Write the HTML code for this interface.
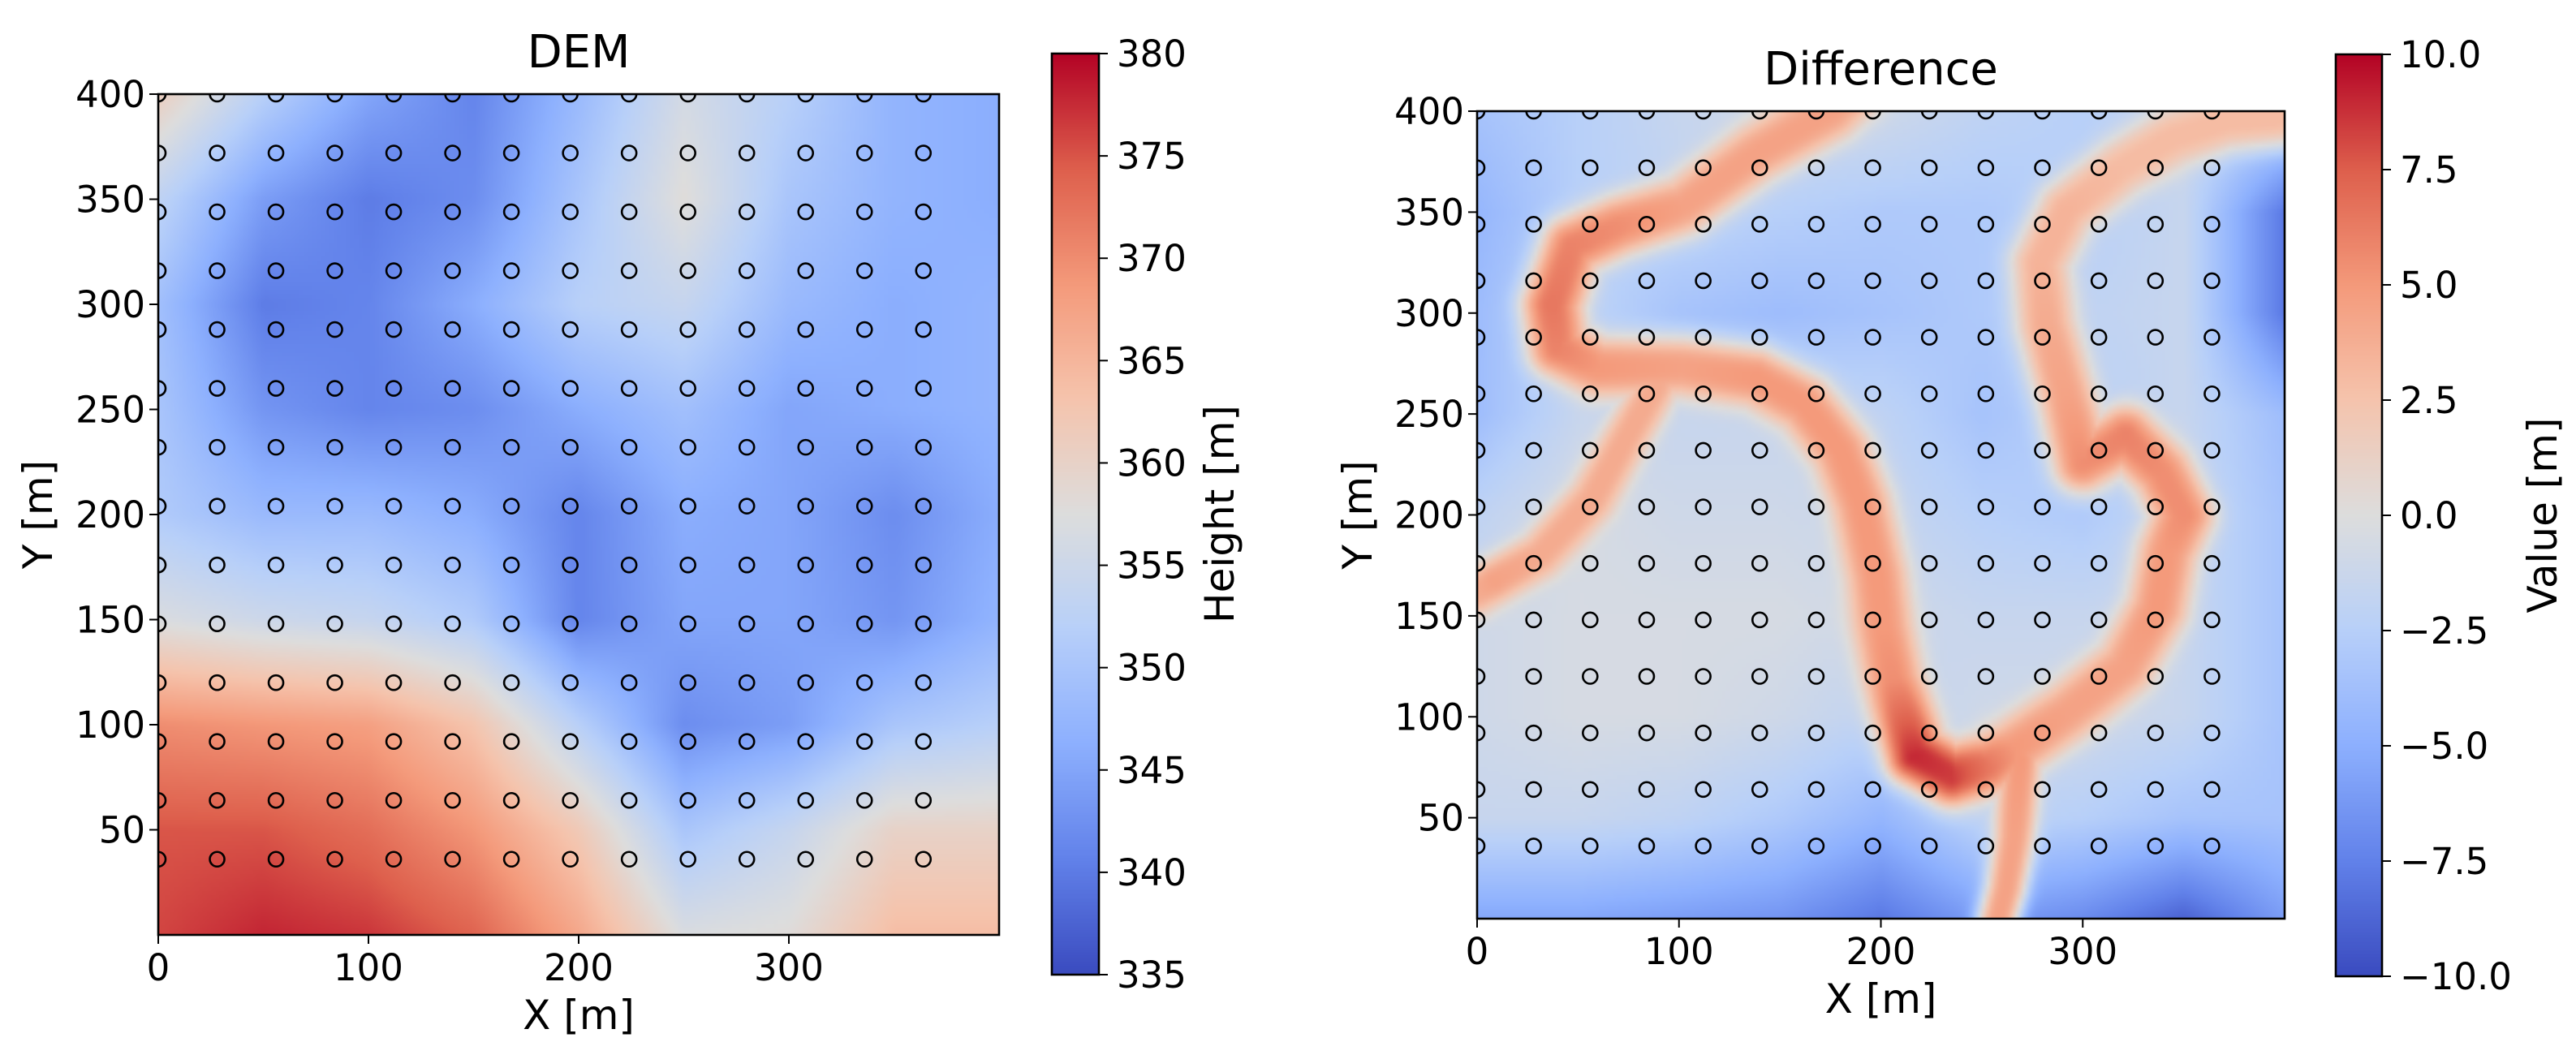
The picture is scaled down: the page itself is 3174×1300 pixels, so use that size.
<!DOCTYPE html>
<html><head><meta charset="utf-8">
<style>
html,body{margin:0;padding:0;background:#fff;}
#wrap{position:relative;width:3174px;height:1300px;overflow:hidden;background:#fff;}
canvas{position:absolute;image-rendering:auto;}
svg{position:absolute;left:0;top:0;}
text{font-family:"DejaVu Sans","Liberation Sans",sans-serif;fill:#000;}
</style></head>
<body>
<div id="wrap">
<canvas id="demCanvas" width="200" height="200" style="left:195px;top:116px;width:1036px;height:1036px;"></canvas>
<canvas id="difCanvas" width="200" height="200" style="left:1820px;top:137px;width:995px;height:995px;"></canvas>
<canvas id="demCbar" width="1" height="256" style="left:1296px;top:66px;width:58px;height:1135px;"></canvas>
<canvas id="difCbar" width="1" height="256" style="left:2878px;top:67px;width:57px;height:1136px;"></canvas>
<svg id="svg" width="3174" height="1300" xmlns="http://www.w3.org/2000/svg"></svg>
</div>
<script>
// ---- data ----
const gridXs=[0,50,100,150,200,250,300,350,400];
const gridYs=[400,350,300,250,200,150,100,50,0];
const demValues=[
[361,352,345,341,348,356,352,347,346],
[353,344,340,342,350,358,350,347,346],
[349,340,341,346,352,354,348,346,347],
[350,343,341,342,346,349,345,346,347],
[351,348,348,346,341,346,345,342,346],
[357,355,354,351,341,345,345,343,347],
[370,369,368,363,352,342,344,350,352],
[375,375,373,369,362,350,354,360,360],
[376,378,377,374,367,357,358,364,364]];
const difBackground=[
[-3.5,-2.5,-1.5,-1,-1,-2,-2.5,-1.5,-2],
[-4.5,-2.5,-2,-2.5,-3,-3,-2.5,-1.5,-8],
[-4,-2,-3.5,-4,-3.5,-3,-2,-1.5,-8],
[-4,-1.5,-1.5,-1.5,-2,-3.5,-2.5,-1.5,-4],
[-2,-0.5,-1,-1,-1.5,-2.5,-3,-1.5,-3.5],
[-1,-0.5,-0.5,-0.5,-1,-1.5,-1.5,-1.5,-3.5],
[-1,-0.5,-0.5,-1,-2,-1,-1,-1.5,-3.5],
[-1.5,-1.5,-2,-3,-4.5,-2,-2.5,-3.5,-3.5],
[-5.5,-5.5,-6,-6.5,-8,-6,-7,-9,-6]];
const ridgeAX=[185,175,138,102,70,47,37,40,60,102,138,162,180,190,198,201,206,217,235,253,266,292,321,337,342,350,339,321,300,292,282,279,292,319,345,371,397,410];
const ridgeAY=[410,400,379,353,343,333,304,283,273,273,268,255,232,206,170,144,118,81,71,76,84,102,125,154,182,200,221,239,226,258,294,325,351,372,387,395,397,405];
const ridgeAV=[4.5,4.5,4.5,4.5,5.5,6,6.5,6,5,4.5,5,5,5,5,5,5,5.5,9,8.5,6.5,5,4.5,4.5,5,5,5.5,5.5,6,5.5,4.5,4,3.5,3.5,3,3,3,3,3];
const ridgeBX=[0,8,31,57,76,91];
const ridgeBY=[162,167,180,208,242,268];
const ridgeBV=[4,4.5,4,4,4,4];
const ridgeCX=[269,266,262,258];
const ridgeCY=[79,40,15,0];
const ridgeCV=[5,4.5,4.5,4.5];
const circleXs=[0,28,56,84,112,140,168,196,224,252,280,308,336,364];
const circleYs=[400,372,344,316,288,260,232,204,176,148,120,92,64,36];
const axisTicks=[0,100,200,300];
const yTicks=[50,100,150,200,250,300,350,400];
const demCbarTicks=[335,340,345,350,355,360,365,370,375,380];
const difCbarTicks=[-10,-7.5,-5,-2.5,0,2.5,5,7.5,10];

// ---- colormap ----
const cw=[[59,76,192],[98,130,234],[141,176,254],[184,208,249],[221,221,221],[245,196,173],[244,154,123],[222,96,77],[180,4,38]];
function cmap(t){t=Math.max(0,Math.min(1,t));const f=t*8;const i=Math.min(7,Math.floor(f));const r=f-i;
return cw[i].map((c,k)=>Math.round(c+(cw[i+1][k]-c)*r));}
function bilinear(g,x,y){
 const fx=Math.max(0,Math.min(7.9999,x/50)); const fy=Math.max(0,Math.min(7.9999,(400-y)/50));
 const i=Math.floor(fx),j=Math.floor(fy),a=fx-i,b=fy-j;
 return g[j][i]*(1-a)*(1-b)+g[j][i+1]*a*(1-b)+g[j+1][i]*(1-a)*b+g[j+1][i+1]*a*b;}
function ridgeContrib(xs,ys,vs,x,y){
 let best=1e9,bv=0;
 for(let k=0;k<xs.length-1;k++){const ax=xs[k],ay=ys[k],bx=xs[k+1],by=ys[k+1];
  const dx=bx-ax,dy=by-ay;let t=((x-ax)*dx+(y-ay)*dy)/(dx*dx+dy*dy);t=Math.max(0,Math.min(1,t));
  const px=ax+t*dx,py=ay+t*dy;const d=(x-px)**2+(y-py)**2;
  if(d<best){best=d;bv=vs[k]+(vs[k+1]-vs[k])*t;}}
 return [best,bv];}
function paint(id,fn,lo,hi){
 const c=document.getElementById(id),ctx=c.getContext('2d');const N=c.width;const im=ctx.createImageData(N,N);
 for(let r=0;r<N;r++)for(let q=0;q<N;q++){const x=(q+0.5)/N*400,y=400-(r+0.5)/N*400;
  const col=cmap((fn(x,y)-lo)/(hi-lo));const o=(r*N+q)*4;im.data[o]=col[0];im.data[o+1]=col[1];im.data[o+2]=col[2];im.data[o+3]=255;}
 ctx.putImageData(im,0,0);}
paint('demCanvas',(x,y)=>bilinear(demValues,x,y),335,380);
paint('difCanvas',(x,y)=>{const bg=bilinear(difBackground,x,y);let v=bg;
 for(const [xs,ys,vs,s] of [[ridgeAX,ridgeAY,ridgeAV,11],[ridgeBX,ridgeBY,ridgeBV,8.5],[ridgeCX,ridgeCY,ridgeCV,7.5]]){
  const [d,rv]=ridgeContrib(xs,ys,vs,x,y);const g=Math.exp(-Math.pow(d/(2*s*s),1.4));const nv=bg+(rv-bg)*g;if(nv>v)v=nv;}
 return v;},-10,10);
function cbar(id){const c=document.getElementById(id),ctx=c.getContext('2d');const im=ctx.createImageData(1,256);
 for(let i=0;i<256;i++){const col=cmap(1-i/255);im.data[i*4]=col[0];im.data[i*4+1]=col[1];im.data[i*4+2]=col[2];im.data[i*4+3]=255;}
 ctx.putImageData(im,0,0);}
cbar('demCbar');cbar('difCbar');

// ---- svg ----
const NS='http://www.w3.org/2000/svg';const svg=document.getElementById('svg');
function el(tag,attrs,parent){const e=document.createElementNS(NS,tag);for(const k in attrs)e.setAttribute(k,attrs[k]);(parent||svg).appendChild(e);return e;}
function fmt(v,dec){return (v<0?'\u2212':'')+Math.abs(v).toFixed(dec);}
function panel(p){
 const sx=v=>p.L+v/400*(p.R-p.L), sy=v=>p.B-v/400*(p.B-p.T);
 const defs=el('defs',{});const cp=el('clipPath',{id:p.id+'clip'},defs);el('rect',{x:p.L,y:p.T,width:p.R-p.L,height:p.B-p.T},cp);
 const g=el('g',{'clip-path':'url(#'+p.id+'clip)'});
 
 
 for(const cy of circleYs)for(const cx of circleXs){
  const c=el('circle',{cx:sx(cx),cy:sy(cy),r:9,fill:'none',stroke:'#000','stroke-width':2.6},g);
  
  }
 const fr=el('rect',{x:p.L,y:p.T,width:p.R-p.L,height:p.B-p.T,fill:'none',stroke:'#000','stroke-width':2.6});
 
 
 for(const t of axisTicks){const x=sx(t);el('line',{x1:x,x2:x,y1:p.B,y2:p.B+11,stroke:'#000','stroke-width':2});
  const tx=el('text',{x:x,y:p.B+56,'font-size':45,'text-anchor':'middle'});tx.textContent=t;
  
  }
 for(const t of yTicks){const y=sy(t);el('line',{x1:p.L-11,x2:p.L,y1:y,y2:y,stroke:'#000','stroke-width':2});
  const tx=el('text',{x:p.L-16,y:y+16,'font-size':45,'text-anchor':'end'});tx.textContent=t;
  
  }
 const ti=el('text',{x:(p.L+p.R)/2,y:p.titleY,'font-size':56,'text-anchor':'middle'});ti.textContent=p.title;
 
 
 const xl=el('text',{x:(p.L+p.R)/2,y:p.xlY,'font-size':50,'text-anchor':'middle'});xl.textContent='X [m]';
 
 
 const yl=el('text',{x:0,y:0,'font-size':50,'text-anchor':'middle',transform:'translate('+p.ylX+','+(p.T+p.B)/2+') rotate(-90)'});yl.textContent='Y [m]';
 
 
 const cb=p.cb;const cy=v=>cb.B-(v-cb.lo)/(cb.hi-cb.lo)*(cb.B-cb.T);
 const cr=el('rect',{x:cb.L,y:cb.T,width:cb.R-cb.L,height:cb.B-cb.T,fill:'none',stroke:'#000','stroke-width':2.6});
 
 
 for(const t of cb.ticks){const y=cy(t);el('line',{x1:cb.R,x2:cb.R+11,y1:y,y2:y,stroke:'#000','stroke-width':2});
  const tx=el('text',{x:cb.R+22,y:y+16,'font-size':45});tx.textContent=fmt(t,cb.dec);
  
  }
 const cl=el('text',{x:0,y:0,'font-size':50,'text-anchor':'middle',transform:'translate('+cb.labX+','+(cb.T+cb.B)/2+') rotate(-90)'});cl.textContent=cb.label;
 
 
}
panel({id:'dem',L:195,R:1231,T:116,B:1152,title:'DEM',titleY:83,xlY:1268,ylX:64,
 cb:{L:1296,R:1354,T:66,B:1201,lo:335,hi:380,ticks:demCbarTicks,dec:0,label:'Height [m]',labX:1520}});
panel({id:'difference',L:1820,R:2815,T:137,B:1132,title:'Difference',titleY:104,xlY:1248,ylX:1690,
 cb:{L:2878,R:2935,T:67,B:1203,lo:-10,hi:10,ticks:difCbarTicks,dec:1,label:'Value [m]',labX:3150}});
</script>
</body></html>
